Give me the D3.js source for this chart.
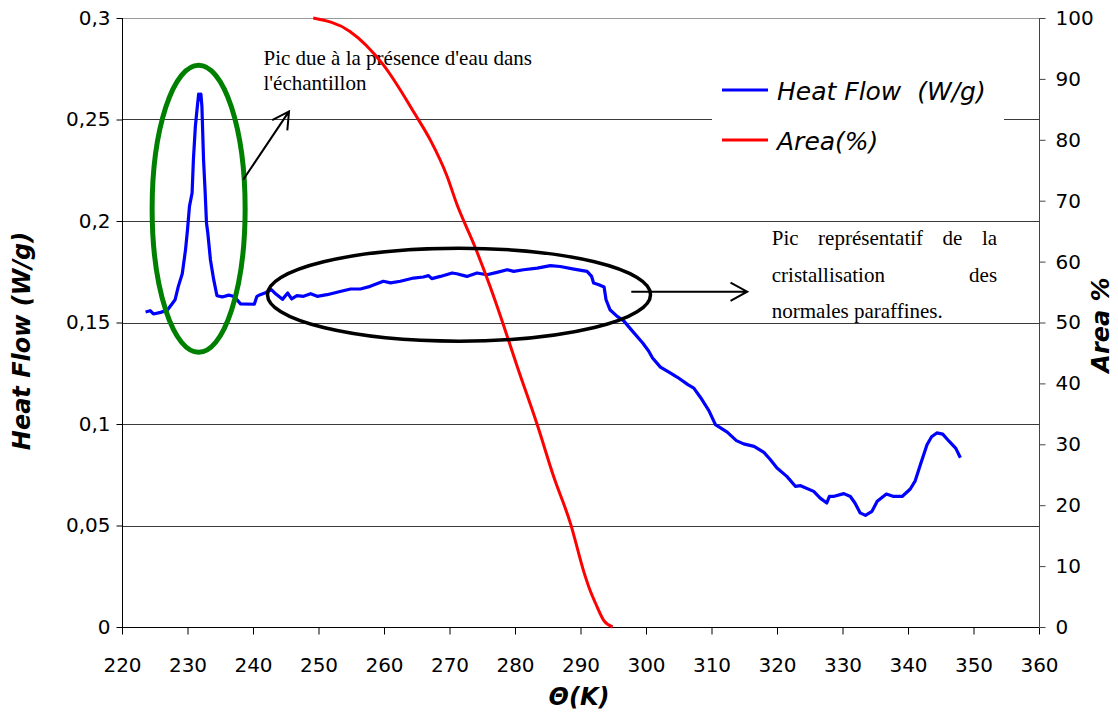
<!DOCTYPE html>
<html>
<head>
<meta charset="utf-8">
<script src="https://cdn.jsdelivr.net/npm/d3@7"></script>
<style>
  body { margin: 0; background: #fff; }
  svg { display: block; }
  .tick text { font-family: "DejaVu Sans", Verdana, sans-serif; font-size: 20px; fill: #000; }
  .comic { font-family: "Comic Sans MS", "DejaVu Sans", sans-serif; font-style: italic; }
  .note { font-family: "Liberation Serif", "Times New Roman", serif; font-size: 21px; fill: #000; }
</style>
</head>
<body>
<svg id="chart" width="1118" height="716"></svg>
<script>
// DSC run: heat flow (left axis) and cumulative crystallised area (right axis) vs temperature

const heatT = [223.6, 224.3, 224.8, 225.9, 226.9, 227.6, 228.1, 228.6, 229.2, 229.7, 230.0, 230.3, 230.7, 230.9,
  231.2, 231.45, 231.7, 231.95, 232.05, 232.2, 232.45, 232.7, 232.9, 233.1, 233.5, 234.0, 234.5, 235.3, 236.3,
  237.0, 237.6, 238.1, 240.2, 240.6, 241.1, 242.0, 242.8, 243.5, 244.5, 245.3, 245.9, 246.7, 247.7, 248.8, 249.8,
  251.3, 253.3, 254.9, 256.4, 257.9, 259.9, 261.0, 262.5, 264.5, 266.0, 266.8, 267.3, 268.6, 270.4, 271.1, 272.65,
  274.2, 275.7, 277.25, 278.8, 279.8, 281.3, 283.4, 285.4, 286.9, 289.0, 291.0, 291.7, 292.0, 292.8, 293.6, 293.9,
  294.5, 295.6, 296.6, 297.6, 299.5, 300.4, 301.0, 302.2, 303.5, 304.8, 306.4, 307.3, 308.3, 309.6, 310.6, 312.4,
  313.8, 314.9, 316.5, 318.0, 319.0, 320.0, 321.5, 322.8, 323.6, 325.6, 326.6, 327.6, 328.0, 328.6, 330.2, 331.2,
  331.9, 332.7, 333.5, 334.5, 335.3, 336.7, 337.8, 339.1, 340.35, 341.1, 341.9, 342.9, 343.6, 344.4, 345.3, 346.3,
  347.3, 348.0];
const heatFlow = [0.1552, 0.1558, 0.1542, 0.1550, 0.1560, 0.1590, 0.1612, 0.1678, 0.1740, 0.1859, 0.1957, 0.2072,
  0.2138, 0.2302, 0.2466, 0.2548, 0.2625, 0.2598, 0.2625, 0.2565, 0.2302, 0.2138, 0.1990, 0.1941, 0.1809, 0.1711,
  0.1632, 0.1626, 0.1635, 0.1629, 0.1610, 0.1592, 0.1590, 0.1629, 0.1637, 0.1648, 0.1662, 0.1640, 0.1614, 0.1645,
  0.1616, 0.1632, 0.1629, 0.1642, 0.1629, 0.1637, 0.1653, 0.1665, 0.1665, 0.1678, 0.1703, 0.1695, 0.1703, 0.1719,
  0.1724, 0.1731, 0.1716, 0.1727, 0.1744, 0.1740, 0.1727, 0.1744, 0.1735, 0.1747, 0.1760, 0.1752, 0.1760, 0.1768,
  0.1780, 0.1776, 0.1763, 0.1752, 0.1727, 0.1695, 0.1686, 0.1675, 0.1612, 0.1563, 0.1530, 0.1508, 0.1470, 0.1399,
  0.1360, 0.1325, 0.1280, 0.1255, 0.1230, 0.1194, 0.1177, 0.1132, 0.1066, 0.0997, 0.0960, 0.0918, 0.0902, 0.0890,
  0.0860, 0.0824, 0.0783, 0.0742, 0.0693, 0.0696, 0.0668, 0.0635, 0.0611, 0.0643, 0.0643, 0.0657, 0.0643, 0.0611,
  0.0562, 0.0550, 0.0570, 0.0619, 0.0655, 0.0643, 0.0643, 0.0680, 0.0720, 0.0800, 0.0898, 0.0937, 0.0956, 0.0950,
  0.0914, 0.0880, 0.0834];

const areaT   = [249.2, 254.8, 259.9, 264.8, 267.1, 269.6, 271.1, 273.9, 276.2, 278.3, 280.3, 283.4, 285.9, 288.5,
  290.5, 291.5, 292.3, 293.6, 294.9];
const areaPct = [100, 97.8, 92.3, 84.1, 79.9, 74.1, 69.5, 62.4, 55.9, 49.4, 42.9, 33.2, 24.7, 16.9, 9.1, 5.9, 3.9,
  1.0, 0];

const xTicks    = [220, 230, 240, 250, 260, 270, 280, 290, 300, 310, 320, 330, 340, 350, 360];
const hfTicks   = [0, 0.05, 0.1, 0.15, 0.2, 0.25, 0.3];
const hfLabels  = ["0", "0,05", "0,1", "0,15", "0,2", "0,25", "0,3"];
const areaTicks = [0, 10, 20, 30, 40, 50, 60, 70, 80, 90, 100];

const series = [
  { name: "Heat Flow  (W/g)", color: "#0000ff" },
  { name: "Area(%)",          color: "#ff0000" }
];

// annotations, in data units (K, W/g)
const peakEllipse  = { t: 231.7, hf: 0.206, rt: 7.1, rhf: 0.0707 };
const crystEllipse = { t: 271.45, hf: 0.1637, rt: 29.24, rhf: 0.0229 };
const waterArrow   = [[238.5, 0.2203], [245.5, 0.254]];
const crystArrow   = [[297.75, 0.1652], [315.45, 0.1652]];
const waterNote    = { t: 241.6, lines: [["Pic due à la présence d'eau dans", 0.277], ["l'échantillon", 0.2647]] };
const crystNote    = { t0: 319.2, t1: 353.6,
  lines: [[["Pic", "représentatif", "de", "la"], 0.1883], [["cristallisation", "des"], 0.1701],
          [["normales paraffines."], 0.1524]] };

const svg = d3.select("#chart");
const L = 122, R = 1039, T = 18, B = 627;

const x  = d3.scaleLinear().domain([220, 360]).range([L, R]);
const y  = d3.scaleLinear().domain([0, 0.3]).range([B, T]);
const y2 = d3.scaleLinear().domain([0, 100]).range([B, T]);

// gridlines
svg.append("g").selectAll("line").data(hfTicks.filter(d => d > 0)).join("line")
    .attr("x1", L).attr("x2", R)
    .attr("y1", d => Math.round(y(d)) + 0.5).attr("y2", d => Math.round(y(d)) + 0.5)
    .attr("stroke", d => d === 0.3 ? "#9a9a9a" : "#3a3a3a").attr("stroke-width", 1);

// legend (white box hides the gridline behind it)
const lg = svg.append("g");
lg.append("rect").attr("x", 712).attr("y", 62).attr("width", 292).attr("height", 108).attr("fill", "#fff");
series.forEach((s, i) => {
  const cy = 90 + i * 50;
  lg.append("line").attr("x1", 722).attr("x2", 768).attr("y1", cy).attr("y2", cy)
      .attr("stroke", s.color).attr("stroke-width", 3);
  lg.append("text").attr("class", "comic").attr("x", 777).attr("y", cy + 10)
      .attr("font-size", 25).style("white-space", "pre").text(s.name);
});

// axes
const gx = svg.append("g").attr("transform", `translate(0,${B + 0.5})`)
    .call(d3.axisBottom(x).tickValues(xTicks).tickFormat(d3.format("d")).tickSize(7).tickPadding(23));
const gy = svg.append("g").attr("transform", `translate(${L + 0.5},0)`)
    .call(d3.axisLeft(y).tickValues(hfTicks).tickFormat((d, i) => hfLabels[i]).tickSize(6).tickPadding(6));
const gy2 = svg.append("g").attr("transform", `translate(${R + 0.5},0)`)
    .call(d3.axisRight(y2).tickValues(areaTicks).tickSize(6).tickPadding(10));
[gx, gy].forEach(g => g.selectAll("path, line").attr("stroke", "#000"));
gy2.selectAll("path, line").attr("stroke", "#444");
[gx, gy, gy2].forEach(g => g.select(".domain").attr("d", g === gx ? `M${L},0H${R}` : `M0,${T}V${B}`));

// axis titles
svg.append("text").attr("class", "comic").attr("font-weight", "bold").attr("font-size", 24)
    .attr("transform", "translate(30,341) rotate(-90)").attr("text-anchor", "middle").text("Heat Flow (W/g)");
svg.append("text").attr("class", "comic").attr("font-weight", "bold").attr("font-size", 24)
    .attr("transform", "translate(1109,325) rotate(-90)").attr("text-anchor", "middle").text("Area %");
svg.append("text").attr("class", "comic").attr("font-weight", "bold").attr("font-size", 24)
    .attr("x", 579).attr("y", 705).attr("text-anchor", "middle").text("Θ(K)");

// notes
const notes = svg.append("g").attr("class", "note");
waterNote.lines.forEach(([s, v]) =>
  notes.append("text").attr("x", x(waterNote.t)).attr("y", y(v)).text(s));

function justify(words, x0, x1, yb, last) {
  const t = words.map(w => notes.append("text").attr("y", yb).text(w));
  const w = t.map(s => s.node().getComputedTextLength());
  const gap = last || words.length < 2 ? 0 : (x1 - x0 - d3.sum(w)) / (words.length - 1);
  let cx = x0;
  t.forEach((s, i) => { s.attr("x", cx); cx += w[i] + gap; });
}
crystNote.lines.forEach(([words, v], i) =>
  justify(words, x(crystNote.t0), x(crystNote.t1), y(v), i === crystNote.lines.length - 1));

// curves
const heatLine = d3.line().x(d => x(d[0])).y(d => y(d[1]));
const areaLine = d3.line().curve(d3.curveMonotoneX).x(d => x(d[0])).y(d => y2(d[1]));
svg.append("path").datum(d3.zip(heatT, heatFlow)).attr("d", heatLine)
    .attr("fill", "none").attr("stroke", series[0].color).attr("stroke-width", 3.2).attr("stroke-linejoin", "round");
svg.append("path").datum(d3.zip(areaT, areaPct)).attr("d", areaLine)
    .attr("fill", "none").attr("stroke", series[1].color).attr("stroke-width", 3).attr("stroke-linejoin", "round");

// ellipses and arrows
function ellipse(e, color, w) {
  svg.append("ellipse").attr("cx", x(e.t)).attr("cy", y(e.hf))
      .attr("rx", x(e.t + e.rt) - x(e.t)).attr("ry", y(e.hf) - y(e.hf + e.rhf))
      .attr("fill", "none").attr("stroke", color).attr("stroke-width", w);
}
ellipse(peakEllipse, "#008000", 5);
ellipse(crystEllipse, "#000", 3.5);

function arrow([p0, p1]) {
  const x1 = x(p0[0]), y1 = y(p0[1]), x2 = x(p1[0]), y2p = y(p1[1]);
  const a = Math.atan2(y2p - y1, x2 - x1), len = 19, s = 0.5;
  svg.append("path")
      .attr("d", `M${x1},${y1}L${x2},${y2p}` +
        `M${x2 - len * Math.cos(a - s)},${y2p - len * Math.sin(a - s)}L${x2},${y2p}` +
        `L${x2 - len * Math.cos(a + s)},${y2p - len * Math.sin(a + s)}`)
      .attr("fill", "none").attr("stroke", "#000").attr("stroke-width", 2);
}
arrow(waterArrow);
arrow(crystArrow);
</script>
</body>
</html>
